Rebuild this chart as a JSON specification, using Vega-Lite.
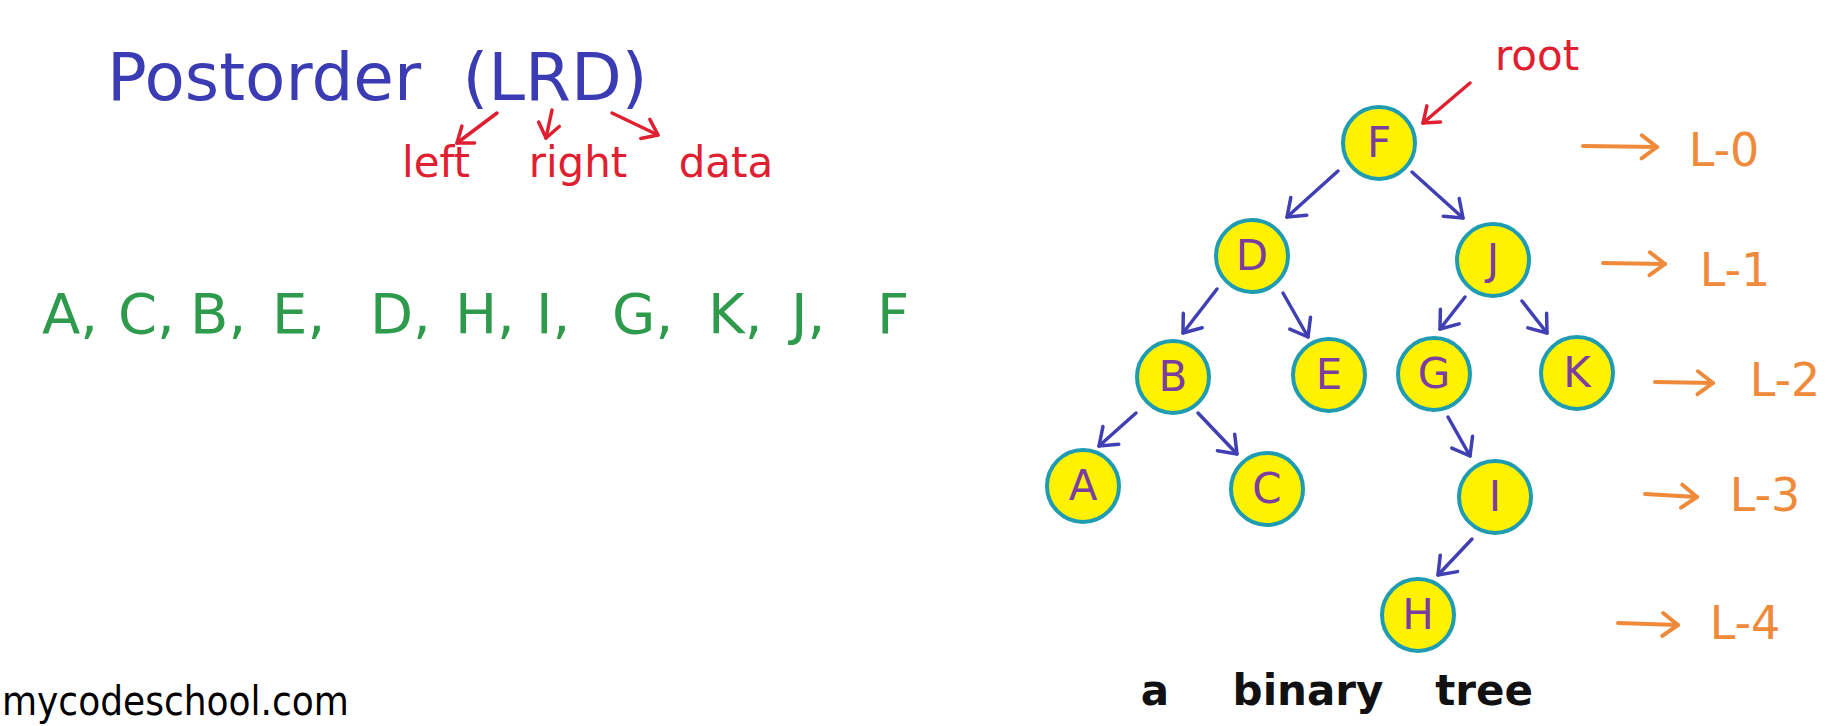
{
  "$schema": "https://vega.github.io/schema/vega-lite/v6.json",
  "width": 1836,
  "height": 726,
  "autosize": {"type": "fit", "contains": "padding"},
  "padding": 0,
  "background": "white",
  "config": {"view": {"stroke": null}},
  "datasets": {
    "nodes": [
      {"id": "F", "x": 1379, "y": 143},
      {"id": "D", "x": 1252, "y": 256},
      {"id": "J", "x": 1493, "y": 260},
      {"id": "B", "x": 1173, "y": 377},
      {"id": "E", "x": 1329, "y": 375},
      {"id": "G", "x": 1434, "y": 374},
      {"id": "K", "x": 1577, "y": 373},
      {"id": "A", "x": 1083, "y": 486},
      {"id": "C", "x": 1267, "y": 489},
      {"id": "I", "x": 1495, "y": 497},
      {"id": "H", "x": 1418, "y": 615}
    ],
    "edges": [
      {"from": "F", "to": "D", "x": 1338, "y": 171, "x2": 1287, "y2": 217},
      {"from": "F", "to": "J", "x": 1412, "y": 172, "x2": 1463, "y2": 218},
      {"from": "D", "to": "B", "x": 1217, "y": 289, "x2": 1183, "y2": 333},
      {"from": "D", "to": "E", "x": 1283, "y": 293, "x2": 1308, "y2": 337},
      {"from": "J", "to": "G", "x": 1465, "y": 297, "x2": 1440, "y2": 329},
      {"from": "J", "to": "K", "x": 1522, "y": 301, "x2": 1547, "y2": 333},
      {"from": "B", "to": "A", "x": 1136, "y": 413, "x2": 1099, "y2": 446},
      {"from": "B", "to": "C", "x": 1198, "y": 413, "x2": 1237, "y2": 454},
      {"from": "G", "to": "I", "x": 1448, "y": 417, "x2": 1470, "y2": 456},
      {"from": "I", "to": "H", "x": 1472, "y": 539, "x2": 1438, "y2": 575}
    ],
    "pointers": [
      {"label": "root", "x": 1470, "y": 83, "x2": 1423, "y2": 123},
      {"label": "left", "x": 497, "y": 113, "x2": 457, "y2": 143},
      {"label": "right", "x": 552, "y": 110, "x2": 546, "y2": 138},
      {"label": "data", "x": 612, "y": 113, "x2": 658, "y2": 135}
    ],
    "levels": [
      {"level": "L-0", "x": 1583, "y": 146, "x2": 1657, "y2": 147, "tx": 1724, "ty": 152},
      {"level": "L-1", "x": 1603, "y": 263, "x2": 1665, "y2": 264, "tx": 1735, "ty": 272},
      {"level": "L-2", "x": 1655, "y": 382, "x2": 1713, "y2": 383, "tx": 1785, "ty": 382},
      {"level": "L-3", "x": 1645, "y": 494, "x2": 1697, "y2": 497, "tx": 1765, "ty": 497},
      {"level": "L-4", "x": 1618, "y": 623, "x2": 1678, "y2": 625, "tx": 1745, "ty": 625}
    ],
    "labels": [
      {"group": "title", "text": "Postorder", "x": 264, "y": 100},
      {"group": "title", "text": "(LRD)", "x": 555, "y": 100},
      {"group": "order", "text": "left", "x": 436, "y": 177},
      {"group": "order", "text": "right", "x": 578, "y": 177},
      {"group": "order", "text": "data", "x": 726, "y": 177},
      {"group": "root", "text": "root", "x": 1537, "y": 70},
      {"group": "caption", "text": "a", "x": 1155, "y": 705},
      {"group": "caption", "text": "binary", "x": 1308, "y": 705},
      {"group": "caption", "text": "tree", "x": 1484, "y": 705},
      {"group": "brand", "text": "mycodeschool.com", "x": 2, "y": 715}
    ],
    "sequence": [
      {"text": "A,", "x": 42, "y": 333},
      {"text": "C,", "x": 118, "y": 333},
      {"text": "B,", "x": 190, "y": 333},
      {"text": "E,", "x": 272, "y": 333},
      {"text": "D,", "x": 370, "y": 333},
      {"text": "H,", "x": 455, "y": 333},
      {"text": "I,", "x": 536, "y": 333},
      {"text": "G,", "x": 612, "y": 333},
      {"text": "K,", "x": 708, "y": 333},
      {"text": "J,", "x": 791, "y": 333},
      {"text": "F", "x": 877, "y": 333}
    ]
  },
  "encoding": {
    "x": {"field": "x", "type": "quantitative", "scale": {"domain": [0, 1836], "nice": false, "zero": false}, "axis": null},
    "y": {"field": "y", "type": "quantitative", "scale": {"domain": [0, 726], "reverse": true, "nice": false, "zero": false}, "axis": null}
  },
  "layer": [
    {
      "data": {"name": "edges"},
      "mark": {"type": "rule", "color": "#4040b4", "strokeWidth": 3.5, "strokeCap": "round"},
      "encoding": {"x2": {"field": "x2"}, "y2": {"field": "y2"}}
    },
    {
      "data": {"name": "edges"},
      "mark": {
        "type": "point", "shape": "M -1.2 -0.9 L 0 0 L -1.2 0.9", "filled": false,
        "stroke": "#4040b4", "strokeWidth": 3.5, "strokeCap": "round", "strokeJoin": "round",
        "size": 700, "opacity": 1,
        "angle": {"expr": "atan2(datum.y2 - datum.y, datum.x2 - datum.x) * 180 / PI"}
      },
      "encoding": {"x": {"field": "x2", "type": "quantitative"}, "y": {"field": "y2", "type": "quantitative"}}
    },
    {
      "data": {"name": "pointers"},
      "mark": {"type": "rule", "color": "#df2030", "strokeWidth": 3.5, "strokeCap": "round"},
      "encoding": {"x2": {"field": "x2"}, "y2": {"field": "y2"}}
    },
    {
      "data": {"name": "pointers"},
      "mark": {
        "type": "point", "shape": "M -1.2 -0.9 L 0 0 L -1.2 0.9", "filled": false,
        "stroke": "#df2030", "strokeWidth": 3.5, "strokeCap": "round", "strokeJoin": "round",
        "size": 550, "opacity": 1,
        "angle": {"expr": "atan2(datum.y2 - datum.y, datum.x2 - datum.x) * 180 / PI"}
      },
      "encoding": {"x": {"field": "x2", "type": "quantitative"}, "y": {"field": "y2", "type": "quantitative"}}
    },
    {
      "data": {"name": "levels"},
      "mark": {"type": "rule", "color": "#ef8a3a", "strokeWidth": 4, "strokeCap": "round"},
      "encoding": {"x2": {"field": "x2"}, "y2": {"field": "y2"}}
    },
    {
      "data": {"name": "levels"},
      "mark": {
        "type": "point", "shape": "M -1.2 -0.9 L 0 0 L -1.2 0.9", "filled": false,
        "stroke": "#ef8a3a", "strokeWidth": 4, "strokeCap": "round", "strokeJoin": "round",
        "size": 650, "opacity": 1,
        "angle": {"expr": "atan2(datum.y2 - datum.y, datum.x2 - datum.x) * 180 / PI"}
      },
      "encoding": {"x": {"field": "x2", "type": "quantitative"}, "y": {"field": "y2", "type": "quantitative"}}
    },
    {
      "data": {"name": "levels"},
      "mark": {"type": "text", "font": "DejaVu Sans", "fontSize": 46, "color": "#ef8a3a", "align": "center", "baseline": "middle"},
      "encoding": {
        "x": {"field": "tx", "type": "quantitative"},
        "y": {"field": "ty", "type": "quantitative"},
        "text": {"field": "level"}
      }
    },
    {
      "data": {"name": "nodes"},
      "mark": {"type": "point", "shape": "circle", "filled": true, "fill": "#fff200", "stroke": "#1f9cb2", "strokeWidth": 4, "size": 5184, "opacity": 1, "fillOpacity": 1},
      "encoding": {}
    },
    {
      "data": {"name": "nodes"},
      "mark": {"type": "text", "font": "DejaVu Sans", "fontSize": 42, "color": "#7a3ea0", "align": "center", "baseline": "middle", "dy": 1},
      "encoding": {"text": {"field": "id"}}
    },
    {
      "data": {"name": "labels"},
      "transform": [{"filter": "datum.group === 'title'"}],
      "mark": {"type": "text", "font": "DejaVu Sans", "fontSize": 66, "color": "#3b3bb3", "align": "center", "baseline": "alphabetic"},
      "encoding": {"text": {"field": "text"}}
    },
    {
      "data": {"name": "labels"},
      "transform": [{"filter": "datum.group === 'order' || datum.group === 'root'"}],
      "mark": {"type": "text", "font": "DejaVu Sans", "fontSize": 42, "color": "#df2030", "align": "center", "baseline": "alphabetic"},
      "encoding": {"text": {"field": "text"}}
    },
    {
      "data": {"name": "labels"},
      "transform": [{"filter": "datum.group === 'caption'"}],
      "mark": {"type": "text", "font": "DejaVu Sans", "fontSize": 42, "fontWeight": "bold", "color": "#111111", "align": "center", "baseline": "alphabetic"},
      "encoding": {"text": {"field": "text"}}
    },
    {
      "data": {"name": "labels"},
      "transform": [{"filter": "datum.group === 'brand'"}],
      "mark": {"type": "text", "font": "DejaVu Sans Condensed, DejaVu Sans", "fontSize": 40, "color": "#000000", "align": "left", "baseline": "alphabetic"},
      "encoding": {"text": {"field": "text"}}
    },
    {
      "data": {"name": "sequence"},
      "mark": {"type": "text", "font": "DejaVu Sans", "fontSize": 56, "color": "#2e9a4c", "align": "left", "baseline": "alphabetic"},
      "encoding": {"text": {"field": "text"}}
    }
  ]
}
